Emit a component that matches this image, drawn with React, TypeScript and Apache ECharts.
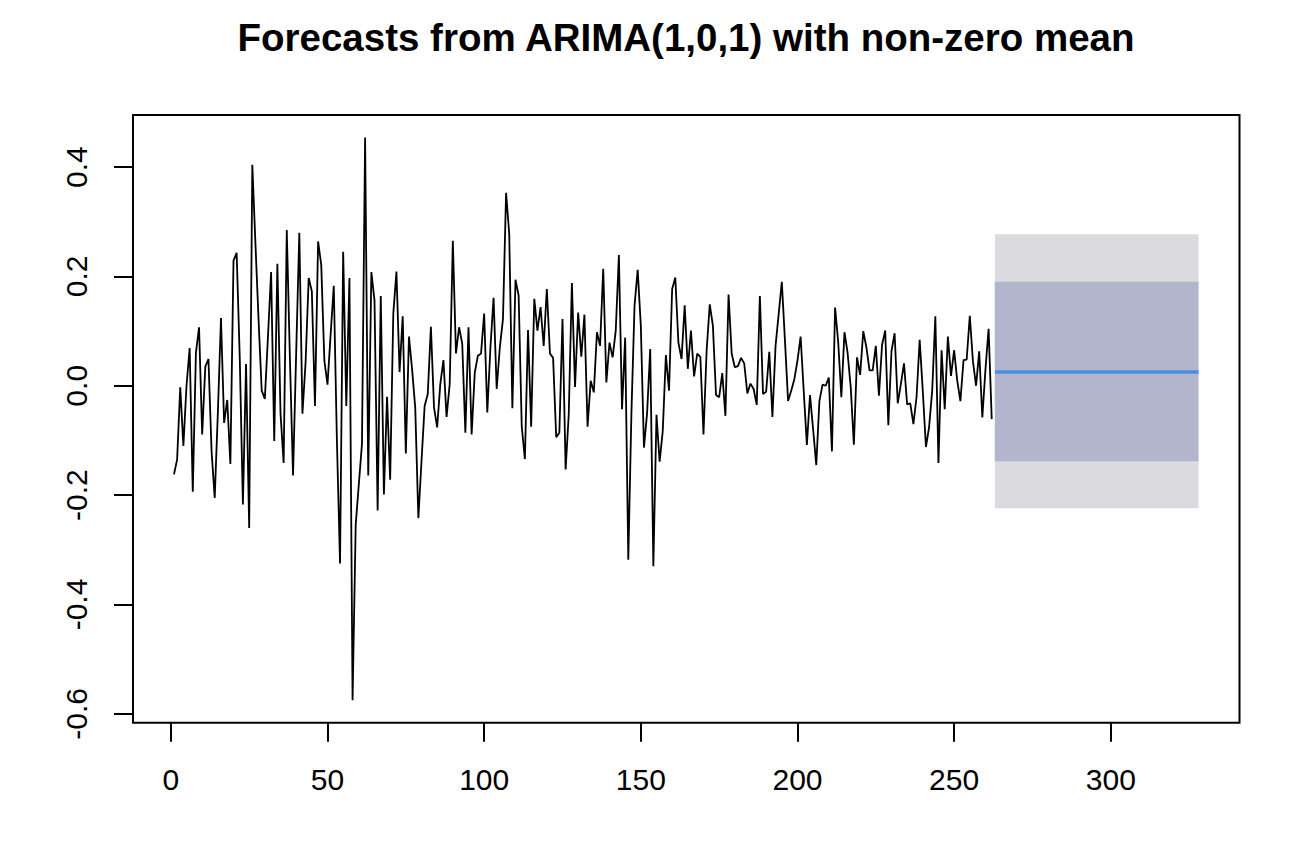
import React, { useEffect, useRef } from "react";
import * as echarts from "echarts";

// Observed series (t = 1..262)
const observed: number[] = [
  -0.162, -0.135, -0.003, -0.11, 0.0, 0.069, -0.194, 0.06, 0.107, -0.089,
  0.035, 0.049, -0.12, -0.205, -0.05, 0.124, -0.068, -0.026, -0.143, 0.229,
  0.243, 0.05, -0.217, 0.04, -0.26, 0.404, 0.26, 0.12, -0.009, -0.024,
  0.09, 0.208, -0.101, 0.223, -0.05, -0.141, 0.285, 0.05, -0.164, 0.06,
  0.28, -0.051, 0.042, 0.197, 0.173, -0.037, 0.264, 0.221, 0.046, 0.002,
  0.094, 0.183, -0.1, -0.325, 0.245, -0.037, 0.197, -0.575, -0.254, -0.18,
  -0.106, 0.454, -0.164, 0.208, 0.156, -0.228, 0.164, -0.199, -0.02, -0.172,
  0.132, 0.209, 0.025, 0.127, -0.124, 0.09, 0.03, -0.04, -0.242, -0.138,
  -0.037, -0.015, 0.108, -0.04, -0.076, 0.003, 0.047, -0.057, 0.003, 0.265,
  0.059, 0.107, 0.077, -0.086, 0.107, -0.089, 0.024, 0.055, 0.059, 0.132,
  -0.049, 0.07, 0.161, -0.006, 0.07, 0.122, 0.353, 0.278, -0.041, 0.194,
  0.165, -0.075, -0.134, 0.102, -0.075, 0.159, 0.101, 0.144, 0.073, 0.177,
  0.059, 0.051, -0.094, -0.086, 0.122, -0.153, -0.052, 0.188, -0.002, 0.134,
  0.053, 0.13, -0.075, 0.009, -0.012, 0.098, 0.073, 0.214, 0.006, 0.079,
  0.052, 0.101, 0.239, -0.043, 0.088, -0.318, -0.05, 0.147, 0.212, 0.11,
  -0.113, -0.05, 0.067, -0.33, -0.053, -0.139, -0.083, 0.056, -0.009, 0.177,
  0.198, 0.079, 0.049, 0.147, 0.031, 0.101, 0.017, 0.059, 0.053, -0.089,
  0.064, 0.149, 0.11, -0.017, -0.021, 0.023, -0.055, 0.167, 0.059, 0.034,
  0.036, 0.051, 0.041, -0.014, 0.004, -0.006, -0.035, 0.164, -0.015, -0.011,
  0.062, -0.057, 0.073, 0.131, 0.19, 0.083, -0.028, -0.009, 0.012, 0.046,
  0.09, -0.01, -0.108, -0.017, -0.08, -0.145, -0.028, 0.002, 0.0, 0.015,
  -0.12, 0.143, 0.08, -0.021, 0.098, 0.06, -0.003, -0.108, 0.052, 0.02,
  0.1, 0.07, 0.028, 0.028, 0.073, -0.018, 0.075, 0.101, -0.072, 0.063,
  0.096, -0.032, 0.003, 0.041, -0.034, -0.032, -0.07, -0.021, 0.084, -0.01,
  -0.112, -0.076, -0.009, 0.127, -0.141, 0.065, -0.043, 0.09, 0.018, 0.065,
  0.009, -0.028, 0.047, 0.048, 0.128, 0.045, 0.0, 0.063, -0.058, 0.03,
  0.104, -0.061,
];

// Forecast horizon (first and last forecast time)
const forecastTimes: number[] = [263, 328];
const forecastMean: number[] = [0.025, 0.025];
const lower80: number[] = [-0.138, -0.138];
const upper80: number[] = [0.19, 0.19];
const lower95: number[] = [-0.224, -0.224];
const upper95: number[] = [0.277, 0.277];

const xTickValues: number[] = [0, 50, 100, 150, 200, 250, 300];
const yTickValues: number[] = [-0.6, -0.4, -0.2, 0.0, 0.2, 0.4];

const TITLE = "Forecasts from ARIMA(1,0,1) with non-zero mean";
const FONT = "'Liberation Sans', Arial, Helvetica, sans-serif";

export default function App() {
  const ref = useRef<HTMLDivElement>(null);

  useEffect(() => {
    if (!ref.current) return;
    const chart = echarts.init(ref.current, undefined, { renderer: "svg" });

    const obsData = observed.map((v, i) => [i + 1, v]);
    const meanData = forecastTimes.map((t, i) => [t, forecastMean[i]]);

    // R-style 4% axis padding
    const xLo = 1;
    const xHi = forecastTimes[forecastTimes.length - 1];
    const xPad = 0.04 * (xHi - xLo);
    const yLoRaw = Math.min(...observed, ...lower95);
    const yHiRaw = Math.max(...observed, ...upper95);
    const yPad = 0.04 * (yHiRaw - yLoRaw);

    const last = forecastTimes.length - 1;

    chart.setOption({
      animation: false,
      backgroundColor: "#ffffff",
      textStyle: { fontFamily: FONT },
      graphic: [
        {
          type: "text",
          x: 686,
          y: 37,
          style: {
            text: TITLE,
            font: `bold 38.5px ${FONT}`,
            fill: "#000",
            textAlign: "center",
            textVerticalAlign: "middle",
          },
        },
      ],
      grid: {
        left: 133,
        right: 68.5,
        top: 115,
        bottom: 137.3,
        show: true,
        borderColor: "#000",
        borderWidth: 2,
        backgroundColor: "transparent",
      },
      xAxis: {
        type: "value",
        min: xLo - xPad,
        max: xHi + xPad,
        splitLine: { show: false },
        axisLine: { show: false, onZero: false },
        axisTick: {
          show: true,
          inside: false,
          length: 19,
          customValues: xTickValues,
          lineStyle: { color: "#000", width: 2 },
        },
        axisLabel: {
          customValues: xTickValues,
          fontSize: 30,
          color: "#000",
          fontFamily: FONT,
          margin: 42,
          formatter: (v: number) => String(v),
        },
      },
      yAxis: {
        type: "value",
        min: yLoRaw - yPad,
        max: yHiRaw + yPad,
        splitLine: { show: false },
        axisLine: { show: false, onZero: false },
        axisTick: {
          show: true,
          inside: false,
          length: 19,
          customValues: yTickValues,
          lineStyle: { color: "#000", width: 2 },
        },
        axisLabel: {
          customValues: yTickValues,
          fontSize: 30,
          color: "#000",
          fontFamily: FONT,
          rotate: 90,
          margin: 42,
          formatter: (v: number) => v.toFixed(1),
        },
      },
      series: [
        {
          type: "line",
          name: "95%",
          data: meanData,
          showSymbol: false,
          lineStyle: { opacity: 0 },
          silent: true,
          z: 1,
          markArea: {
            silent: true,
            itemStyle: { color: "#DBDBDF", opacity: 1 },
            data: [
              [
                { coord: [forecastTimes[0], lower95[0]] },
                { coord: [forecastTimes[last], upper95[last]] },
              ],
            ],
          },
        },
        {
          type: "line",
          name: "80%",
          data: meanData,
          showSymbol: false,
          lineStyle: { opacity: 0 },
          silent: true,
          z: 2,
          markArea: {
            silent: true,
            itemStyle: { color: "#B3B5CD", opacity: 1 },
            data: [
              [
                { coord: [forecastTimes[0], lower80[0]] },
                { coord: [forecastTimes[last], upper80[last]] },
              ],
            ],
          },
        },
        {
          type: "line",
          name: "observed",
          data: obsData,
          showSymbol: false,
          z: 3,
          lineStyle: { color: "#000", width: 1.8 },
        },
        {
          type: "line",
          name: "mean",
          data: meanData,
          showSymbol: false,
          z: 4,
          lineStyle: { color: "#4A90E2", width: 3.5 },
        },
      ],
    });

    return () => chart.dispose();
  }, []);

  return (
    <div
      ref={ref}
      style={{ position: "fixed", left: 0, top: 0, width: 1308, height: 860 }}
    />
  );
}
